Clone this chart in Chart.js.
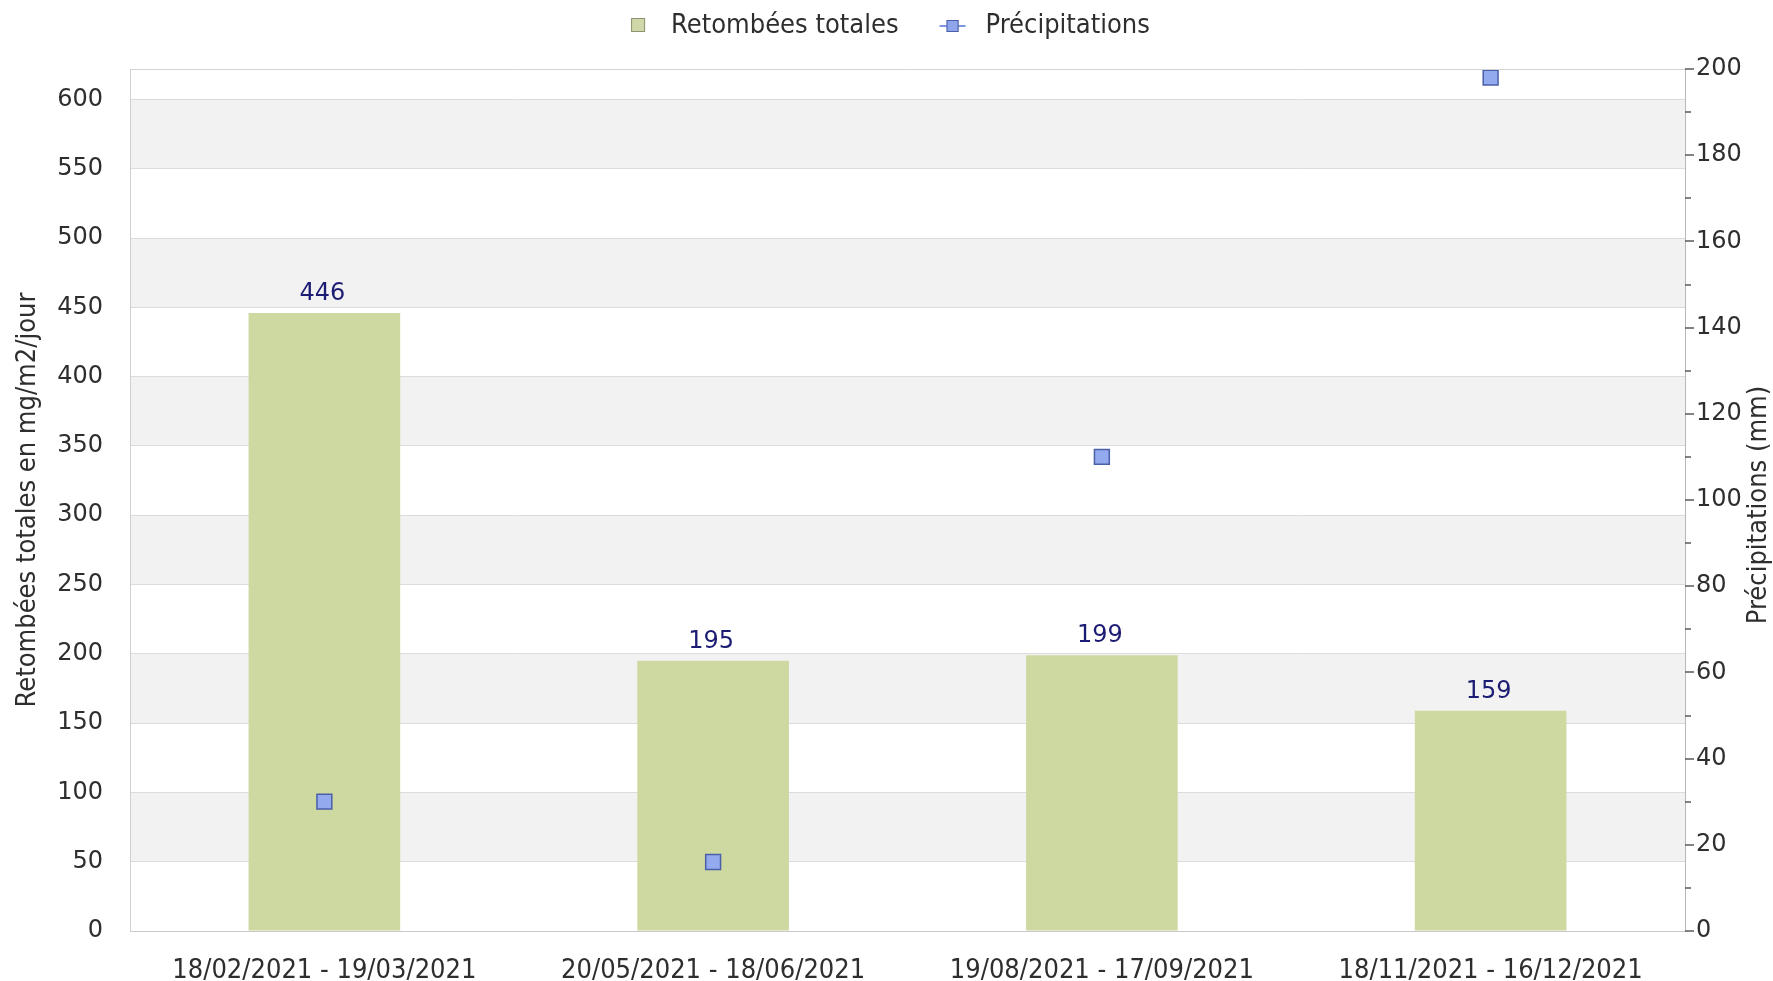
<!DOCTYPE html>
<html>
<head>
<meta charset="utf-8">
<script src="https://cdn.jsdelivr.net/npm/chart.js@4.4.1/dist/chart.umd.min.js"></script>
<style>
  html, body { margin: 0; padding: 0; background: #fff; }
  #chart { display: block; }
</style>
</head>
<body>
<canvas id="chart" width="1773" height="981"></canvas>
<script>
// Data
const periods = ['18/02/2021 - 19/03/2021', '20/05/2021 - 18/06/2021', '19/08/2021 - 17/09/2021', '18/11/2021 - 16/12/2021'];
const retombees = [446, 195, 199, 159];
const precipitations = [30, 16, 110, 198];
const seriesNames = ['Retombées totales', 'Précipitations'];
const leftTitle = 'Retombées totales en mg/m2/jour';
const rightTitle = 'Précipitations (mm)';

const condensed = '"DejaVu Sans Condensed", "DejaVu Sans", sans-serif';
const wide = '"DejaVu Sans", sans-serif';
const textColor = '#2e2e2e';

// Alternating grey bands behind the grid
const bandsPlugin = {
    id: 'bands',
    beforeDraw(chart) {
        const { ctx, chartArea } = chart;
        const y = chart.scales.y;
        ctx.save();
        y.ticks.forEach((t, i) => {
            const next = y.ticks[i + 1];
            if (!next) return;
            if (t.value % 100 === 50) {
                const top = y.getPixelForValue(next.value);
                const bottom = y.getPixelForValue(t.value);
                ctx.fillStyle = '#f2f2f2';
                ctx.fillRect(chartArea.left, top, chartArea.right - chartArea.left, bottom - top);
            }
        });
        ctx.restore();
    }
};

// Frame, right axis tick marks, bar values, right title, legend
const extrasPlugin = {
    id: 'extras',
    afterDatasetsDraw(chart) {
        const { ctx } = chart;
        const meta = chart.getDatasetMeta(0);
        ctx.save();
        ctx.font = '24px ' + wide;
        ctx.fillStyle = '#1c1c74';
        ctx.textAlign = 'center';
        ctx.textBaseline = 'alphabetic';
        meta.data.forEach((bar, i) => {
            ctx.fillText(String(retombees[i]), bar.x - 2, bar.y - 13);
        });
        ctx.restore();
    },
    afterDraw(chart) {
        const { ctx, chartArea } = chart;
        const y1 = chart.scales.y1;
        ctx.save();
        // top frame line
        ctx.strokeStyle = '#d4d4d4';
        ctx.lineWidth = 1;
        ctx.beginPath();
        ctx.moveTo(chartArea.left, chartArea.top + 0.5);
        ctx.lineTo(chartArea.right, chartArea.top + 0.5);
        ctx.stroke();

        // right axis tick marks (major / minor)
        ctx.strokeStyle = '#5a5a5a';
        ctx.lineWidth = 1.5;
        y1.ticks.forEach(t => {
            const py = Math.round(y1.getPixelForValue(t.value));
            const len = t.value % 20 === 0 ? 9 : 6;
            ctx.beginPath();
            ctx.moveTo(y1.left, py);
            ctx.lineTo(y1.left + len, py);
            ctx.stroke();
        });

        // right axis title, reading upwards
        ctx.font = '27px ' + condensed;
        ctx.fillStyle = textColor;
        ctx.textAlign = 'center';
        ctx.textBaseline = 'middle';
        ctx.translate(1759, (chartArea.top + chartArea.bottom) / 2 + 5);
        ctx.rotate(-Math.PI / 2);
        ctx.fillText(rightTitle, 0, 0);
        ctx.restore();

        // legend
        ctx.save();
        ctx.font = '27px ' + condensed;
        ctx.textBaseline = 'middle';
        ctx.textAlign = 'left';
        const ly = 25;
        const w1 = ctx.measureText(seriesNames[0]).width;
        const w2 = ctx.measureText(seriesNames[1]).width;
        const total = 14 + 26 + w1 + 47 + 14 + 26 + w2;
        let x = chart.width / 2 + 4 - total / 2;
        ctx.fillStyle = '#d0d7a8';
        ctx.strokeStyle = '#8f9170';
        ctx.fillRect(x, ly - 7, 14, 14);
        ctx.strokeRect(x + 0.5, ly - 6.5, 13, 13);
        ctx.fillStyle = textColor;
        ctx.fillText(seriesNames[0], x + 40, ly + 1);
        x += 40 + w1 + 47;
        ctx.strokeStyle = '#7e95e0';
        ctx.lineWidth = 2;
        ctx.beginPath();
        ctx.moveTo(x - 6, ly + 1);
        ctx.lineTo(x + 20, ly + 1);
        ctx.stroke();
        ctx.lineWidth = 1;
        ctx.fillStyle = '#8fa6ec';
        ctx.strokeStyle = '#4b5fa8';
        ctx.fillRect(x + 1, ly - 5, 12, 12);
        ctx.strokeRect(x + 1.5, ly - 4.5, 11, 11);
        ctx.fillStyle = textColor;
        ctx.fillText(seriesNames[1], x + 40, ly + 1);
        ctx.restore();
    }
};

new Chart(document.getElementById('chart'), {
    data: {
        labels: periods,
        datasets: [
            {
                type: 'bar',
                label: seriesNames[0],
                data: retombees,
                yAxisID: 'y',
                backgroundColor: '#cdd9a1',
                borderWidth: 0,
                barPercentage: 0.39,
                categoryPercentage: 1,
                order: 2
            },
            {
                type: 'line',
                label: seriesNames[1],
                data: precipitations,
                yAxisID: 'y1',
                showLine: false,
                pointStyle: 'rect',
                pointRadius: 10.5,
                pointHoverRadius: 10.5,
                pointBackgroundColor: '#93aaee',
                pointBorderColor: '#4b5fa8',
                pointBorderWidth: 1.5,
                order: 1
            }
        ]
    },
    options: {
        responsive: false,
        animation: false,
        layout: { padding: { top: 69, left: 0, right: 0, bottom: 0 } },
        plugins: {
            legend: { display: false },
            tooltip: { enabled: false }
        },
        scales: {
            x: {
                grid: { display: false },
                border: { display: true, color: '#c8c8c8' },
                ticks: {
                    font: { family: condensed, size: 27 },
                    color: textColor,
                    padding: 16,
                    maxRotation: 0,
                    autoSkip: false
                },
                afterFit(scale) { scale.height = 50; }
            },
            y: {
                position: 'left',
                min: 0,
                max: 622,
                grid: { color: '#dcdcdc', drawTicks: false },
                border: { display: true, color: '#d0d0d0' },
                ticks: {
                    stepSize: 50,
                    includeBounds: false,
                    font: { family: wide, size: 24 },
                    color: textColor,
                    padding: 27
                },
                title: {
                    display: true,
                    text: leftTitle,
                    font: { family: condensed, size: 27 },
                    color: textColor,
                    padding: { top: 12, bottom: 0 }
                },
                afterFit(scale) { scale.width = 130; }
            },
            y1: {
                position: 'right',
                min: 0,
                max: 200,
                grid: { drawOnChartArea: false, drawTicks: false },
                border: { display: true, color: '#b8b8b8' },
                ticks: {
                    stepSize: 10,
                    font: { family: wide, size: 24 },
                    color: textColor,
                    padding: 11,
                    callback: v => (v % 20 === 0 ? v : '')
                },
                afterFit(scale) { scale.width = 88; }
            }
        }
    },
    plugins: [bandsPlugin, extrasPlugin]
});
</script>
</body>
</html>
